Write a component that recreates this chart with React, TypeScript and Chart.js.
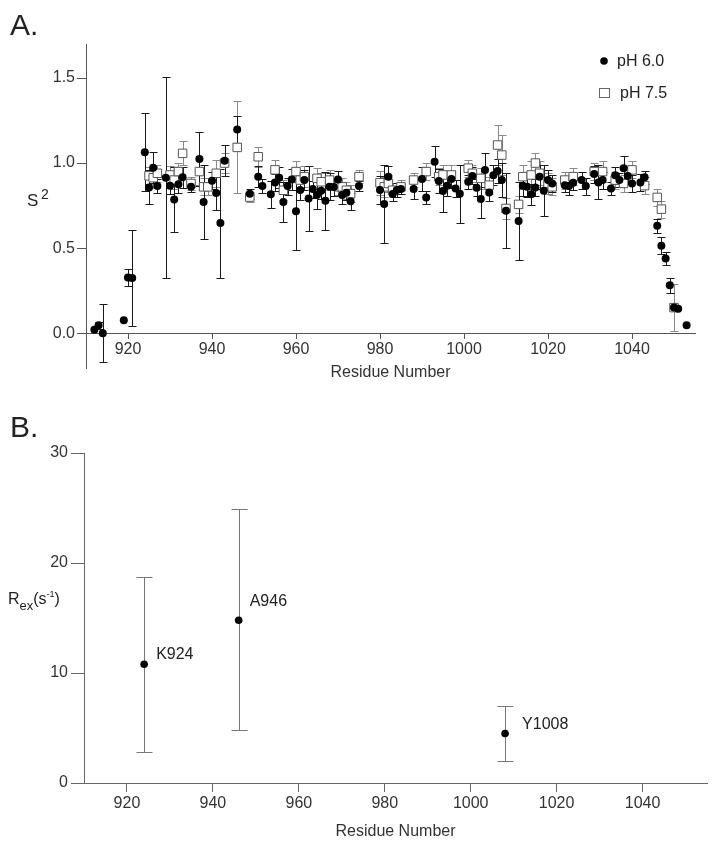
import React, { useEffect, useRef } from "react";
import { Chart, registerables } from "chart.js";
Chart.register(...registerables);

const FONT = "'Liberation Sans', Arial, Helvetica, sans-serif";

// ---------- Panel A data (S^2 order parameter) ----------
const resA60 = [912, 913, 914, 919, 920, 921, 924, 925, 926, 927, 929, 930, 931, 932, 933, 935, 937, 938, 940, 941, 942, 943, 946, 949, 951, 952, 954, 955, 956, 957, 958, 959, 960, 961, 962, 963, 964, 965, 966, 967, 968, 969, 970, 971, 972, 973, 975, 980, 981, 982, 983, 984, 985, 988, 990, 991, 993, 994, 995, 996, 997, 998, 999, 1001, 1002, 1003, 1004, 1005, 1006, 1007, 1008, 1009, 1010, 1013, 1014, 1015, 1016, 1017, 1018, 1019, 1020, 1021, 1024, 1025, 1026, 1028, 1029, 1031, 1032, 1033, 1035, 1036, 1037, 1038, 1039, 1040, 1042, 1043, 1046, 1047, 1048, 1049, 1050, 1051, 1053];
const s2A60 = [0.02, 0.047, 0.0, 0.076, 0.327, 0.324, 1.063, 0.857, 0.973, 0.865, 0.914, 0.867, 0.786, 0.876, 0.916, 0.861, 1.024, 0.771, 0.896, 0.824, 0.647, 1.014, 1.198, 0.82, 0.92, 0.865, 0.816, 0.886, 0.914, 0.771, 0.865, 0.904, 0.716, 0.841, 0.9, 0.792, 0.847, 0.812, 0.837, 0.778, 0.861, 0.859, 0.904, 0.812, 0.825, 0.775, 0.865, 0.841, 0.759, 0.92, 0.818, 0.841, 0.847, 0.847, 0.906, 0.798, 1.008, 0.894, 0.835, 0.867, 0.906, 0.851, 0.82, 0.89, 0.924, 0.855, 0.788, 0.959, 0.827, 0.929, 0.953, 0.9, 0.72, 0.659, 0.867, 0.861, 0.816, 0.857, 0.92, 0.837, 0.9, 0.88, 0.87, 0.865, 0.884, 0.9, 0.865, 0.935, 0.886, 0.9, 0.851, 0.929, 0.9, 0.969, 0.924, 0.88, 0.886, 0.916, 0.631, 0.514, 0.439, 0.282, 0.151, 0.143, 0.047];
const errA60 = [0, 0.02, 0.17, 0, 0.05, 0.28, 0.23, 0.1, 0.09, 0.04, 0.59, 0.05, 0.19, 0.05, 0.06, 0.03, 0.16, 0.22, 0.05, 0.1, 0.32, 0.09, 0.08, 0.03, 0.06, 0.04, 0.08, 0.05, 0.06, 0.12, 0.05, 0.06, 0.23, 0.06, 0.06, 0.19, 0.05, 0.08, 0.05, 0.17, 0.08, 0.05, 0.05, 0.05, 0.04, 0.05, 0.03, 0.08, 0.23, 0.06, 0.04, 0.04, 0.03, 0.06, 0.07, 0.04, 0.09, 0.07, 0.12, 0.06, 0.05, 0.05, 0.17, 0.04, 0.05, 0.05, 0.11, 0.1, 0.05, 0.06, 0.07, 0.1, 0.22, 0.23, 0.06, 0.06, 0.06, 0.05, 0.07, 0.15, 0.06, 0.05, 0.04, 0.05, 0.04, 0.05, 0.05, 0.05, 0.1, 0.05, 0.04, 0.05, 0.04, 0.075, 0.05, 0.05, 0.05, 0.04, 0.04, 0.05, 0.04, 0.045, 0, 0, 0];

const resA75 = [925, 926, 927, 930, 931, 932, 933, 935, 937, 938, 939, 941, 943, 946, 949, 951, 955, 957, 960, 961, 962, 965, 966, 968, 970, 971, 972, 973, 975, 980, 981, 982, 983, 985, 988, 991, 994, 995, 997, 1001, 1002, 1004, 1006, 1008, 1009, 1010, 1013, 1014, 1016, 1017, 1018, 1020, 1021, 1024, 1026, 1031, 1033, 1036, 1038, 1040, 1043, 1046, 1047, 1050];
const s2A75 = [0.925, 0.914, 0.94, 0.93, 0.9, 0.95, 1.057, 0.88, 0.95, 0.86, 0.86, 0.94, 1.0, 1.092, 0.8, 1.037, 0.96, 0.84, 0.95, 0.9, 0.92, 0.91, 0.89, 0.9, 0.86, 0.86, 0.84, 0.82, 0.92, 0.884, 0.86, 0.88, 0.84, 0.86, 0.9, 0.95, 0.92, 0.93, 0.93, 0.97, 0.94, 0.91, 0.87, 1.106, 1.047, 0.733, 0.757, 0.92, 0.93, 1.0, 0.94, 0.88, 0.86, 0.9, 0.92, 0.95, 0.95, 0.9, 0.88, 0.96, 0.867, 0.798, 0.729, 0.15];
const errA75 = [0.05, 0.06, 0.05, 0.05, 0.05, 0.05, 0.07, 0.04, 0.08, 0.05, 0.05, 0.08, 0.06, 0.27, 0.03, 0.06, 0.06, 0.06, 0.06, 0.05, 0.06, 0.06, 0.05, 0.06, 0.05, 0.05, 0.05, 0.05, 0.04, 0.07, 0.06, 0.05, 0.04, 0.04, 0.04, 0.05, 0.05, 0.06, 0.06, 0.05, 0.05, 0.06, 0.05, 0.12, 0.12, 0.06, 0.05, 0.07, 0.08, 0.06, 0.07, 0.06, 0.05, 0.05, 0.05, 0.05, 0.06, 0.05, 0.05, 0.05, 0.05, 0.05, 0.05, 0.14];

const legendA = ["pH 6.0", "pH 7.5"];
const xTicks = [920, 940, 960, 980, 1000, 1020, 1040];
const yTicksA = [0, 0.5, 1.0, 1.5];

// ---------- Panel B data (Rex) ----------
const resB = [924, 946, 1008];
const rexB = [10.8, 14.8, 4.5];
const rexLowB = [2.8, 4.8, 2.0];
const rexHighB = [18.75, 24.9, 7.0];
const labelsB = ["K924", "A946", "Y1008"];
const yTicksB = [0, 10, 20, 30];

const errorBarPlugin = {
  id: "errorBars",
  beforeDatasetsDraw(chart: any) {
    const { ctx, scales } = chart;
    const x = scales.x, y = scales.y;
    ctx.save();
    const dss = chart.data.datasets.slice().reverse();
    dss.forEach((ds: any) => {
      const eb = ds.errorBars;
      if (!eb) return;
      ctx.strokeStyle = eb.color;
      ctx.lineWidth = 1;
      ds.data.forEach((pt: any, j: number) => {
        const lo = eb.low[j], hi = eb.high[j];
        if (hi - lo <= 0) return;
        const px = Math.round(x.getPixelForValue(pt.x)) + 0.5;
        const pl = Math.round(y.getPixelForValue(lo)) + 0.5;
        const ph = Math.round(y.getPixelForValue(hi)) + 0.5;
        ctx.beginPath();
        ctx.moveTo(px, pl); ctx.lineTo(px, ph);
        ctx.moveTo(px - eb.cap, pl); ctx.lineTo(px + eb.cap, pl);
        ctx.moveTo(px - eb.cap, ph); ctx.lineTo(px + eb.cap, ph);
        ctx.stroke();
      });
    });
    ctx.restore();
  },
};

const textA = {
  id: "textA",
  afterDraw(chart: any) {
    const ctx = chart.ctx;
    ctx.save();
    ctx.fillStyle = "#222";
    ctx.textBaseline = "alphabetic";
    ctx.textAlign = "left";
    ctx.font = `30px ${FONT}`;
    ctx.fillText("A.", 10, 35);
    ctx.font = `17px ${FONT}`;
    ctx.fillText("S", 27, 206);
    ctx.font = `14px ${FONT}`;
    ctx.fillText("2", 41, 199);
    // legend
    ctx.fillStyle = "#000";
    ctx.beginPath();
    ctx.arc(604, 61, 3.8, 0, Math.PI * 2);
    ctx.fill();
    ctx.strokeStyle = "#666";
    ctx.lineWidth = 1;
    ctx.fillStyle = "#fff";
    ctx.fillRect(599.5, 88.5, 10, 9);
    ctx.strokeRect(599.5, 88.5, 10, 9);
    ctx.fillStyle = "#222";
    ctx.font = `16px ${FONT}`;
    ctx.textBaseline = "middle";
    ctx.fillText(legendA[0], 617, 62);
    ctx.fillText(legendA[1], 620, 94);
    ctx.restore();
  },
};

const labelOffsetsB = [[12, -10], [11, -19], [17, -9]];
const textB = {
  id: "textB",
  afterDraw(chart: any) {
    const ctx = chart.ctx;
    const { x, y } = chart.scales;
    ctx.save();
    ctx.fillStyle = "#222";
    ctx.textAlign = "left";
    ctx.textBaseline = "alphabetic";
    ctx.font = `30px ${FONT}`;
    ctx.fillText("B.", 10, 47);
    // R_ex(s^-1)
    let cx = 8;
    const base = 214;
    ctx.font = `16px ${FONT}`;
    ctx.fillText("R", cx, base); cx += ctx.measureText("R").width;
    ctx.font = `13px ${FONT}`;
    ctx.fillText("ex", cx, base + 6); cx += ctx.measureText("ex").width;
    ctx.font = `16px ${FONT}`;
    ctx.fillText("(s", cx, base); cx += ctx.measureText("(s").width;
    ctx.font = `9px ${FONT}`;
    ctx.fillText("-1", cx, base - 7); cx += ctx.measureText("-1").width;
    ctx.font = `16px ${FONT}`;
    ctx.fillText(")", cx, base);
    // point labels
    ctx.textBaseline = "middle";
    labelsB.forEach((t, i) => {
      const px = x.getPixelForValue(resB[i]) + labelOffsetsB[i][0];
      const py = y.getPixelForValue(rexB[i]) + labelOffsetsB[i][1];
      ctx.fillText(t, px, py);
    });
    ctx.restore();
  },
};

function configA(): any {
  return {
    type: "scatter",
    data: {
      datasets: [
        {
          label: legendA[0],
          data: resA60.map((r, i) => ({ x: r, y: s2A60[i] })),
          pointStyle: "circle",
          pointRadius: 4,
          backgroundColor: "#000",
          borderColor: "#000",
          borderWidth: 0,
          errorBars: {
            low: s2A60.map((v, i) => v - errA60[i]),
            high: s2A60.map((v, i) => v + errA60[i]),
            color: "#1a1a1a",
            cap: 4,
          },
        },
        {
          label: legendA[1],
          data: resA75.map((r, i) => ({ x: r, y: s2A75[i] })),
          pointStyle: "rect",
          pointRadius: 6,
          backgroundColor: "#fff",
          borderColor: "#555",
          borderWidth: 1,
          errorBars: {
            low: s2A75.map((v, i) => v - errA75[i]),
            high: s2A75.map((v, i) => v + errA75[i]),
            color: "#8a8a8a",
            cap: 4,
          },
        },
      ],
    },
    options: {
      animation: false,
      responsive: false,
      events: [],
      layout: { padding: { left: 0, top: 44, right: 19, bottom: 22 } },
      plugins: { legend: { display: false }, tooltip: { enabled: false } },
      scales: {
        x: {
          type: "linear",
          min: 910,
          max: 1055,
          position: { y: 0 },
          afterBuildTicks: (s: any) => { s.ticks = xTicks.map((v) => ({ value: v })); },
          afterFit: (s: any) => { s.height = 22; },
          grid: { drawOnChartArea: false, drawTicks: true, tickLength: 5, color: "#555" },
          border: { display: true, color: "#555", width: 1 },
          ticks: { color: "#333", font: { family: FONT, size: 16 }, padding: 2, maxRotation: 0, autoSkip: false, callback: (v: any) => String(v) },
          title: { display: true, text: "Residue Number", color: "#333", font: { family: FONT, size: 16 }, padding: { top: 0, bottom: -27 } },
        },
        y: {
          type: "linear",
          min: -0.205,
          max: 1.7,
          position: "left",
          afterBuildTicks: (s: any) => { s.ticks = yTicksA.map((v) => ({ value: v })); },
          afterFit: (s: any) => { s.width = 86; },
          grid: { drawOnChartArea: false, drawTicks: true, tickLength: 9, color: "#555" },
          border: { display: true, color: "#555", width: 1 },
          ticks: { color: "#333", font: { family: FONT, size: 16 }, padding: 2, callback: (v: any) => Number(v).toFixed(1) },
        },
      },
    },
    plugins: [errorBarPlugin, textA],
  };
}

function configB(): any {
  return {
    type: "scatter",
    data: {
      datasets: [
        {
          label: "Rex",
          data: resB.map((r, i) => ({ x: r, y: rexB[i] })),
          pointStyle: "circle",
          pointRadius: 3.8,
          backgroundColor: "#000",
          borderColor: "#000",
          borderWidth: 0,
          errorBars: { low: rexLowB, high: rexHighB, color: "#777", cap: 8 },
        },
      ],
    },
    options: {
      animation: false,
      responsive: false,
      events: [],
      layout: { padding: { left: 0, top: 63, right: 7, bottom: 0 } },
      plugins: { legend: { display: false }, tooltip: { enabled: false } },
      scales: {
        x: {
          type: "linear",
          min: 910,
          max: 1055,
          position: "bottom",
          afterBuildTicks: (s: any) => { s.ticks = xTicks.map((v) => ({ value: v })); },
          afterFit: (s: any) => { s.height = 62; },
          grid: { drawOnChartArea: false, drawTicks: true, tickLength: 9, color: "#666" },
          border: { display: true, color: "#666", width: 1 },
          ticks: { color: "#333", font: { family: FONT, size: 16 }, padding: 2, maxRotation: 0, autoSkip: false, callback: (v: any) => String(v) },
          title: { display: true, text: "Residue Number", color: "#333", font: { family: FONT, size: 16 }, padding: { top: 0, bottom: 4 } },
        },
        y: {
          type: "linear",
          min: 0,
          max: 30,
          position: "left",
          afterBuildTicks: (s: any) => { s.ticks = yTicksB.map((v) => ({ value: v })); },
          afterFit: (s: any) => { s.width = 84; },
          grid: { drawOnChartArea: false, drawTicks: true, tickLength: 13, color: "#666" },
          border: { display: true, color: "#666", width: 1 },
          ticks: { color: "#333", font: { family: FONT, size: 16 }, padding: 3, callback: (v: any) => String(v) },
        },
      },
    },
    plugins: [errorBarPlugin, textB],
  };
}

export default function App() {
  const refA = useRef<HTMLCanvasElement>(null);
  const refB = useRef<HTMLCanvasElement>(null);
  useEffect(() => {
    const a = new Chart(refA.current as HTMLCanvasElement, configA());
    const b = new Chart(refB.current as HTMLCanvasElement, configB());
    return () => {
      a.destroy();
      b.destroy();
    };
  }, []);
  return (
    <div style={{ position: "absolute", left: 0, top: 0, width: 714, height: 845, background: "#fff" }}>
      <canvas ref={refA} width={714} height={390} style={{ position: "absolute", left: 0, top: 0, width: 714, height: 390 }} />
      <canvas ref={refB} width={714} height={455} style={{ position: "absolute", left: 0, top: 390, width: 714, height: 455 }} />
    </div>
  );
}
